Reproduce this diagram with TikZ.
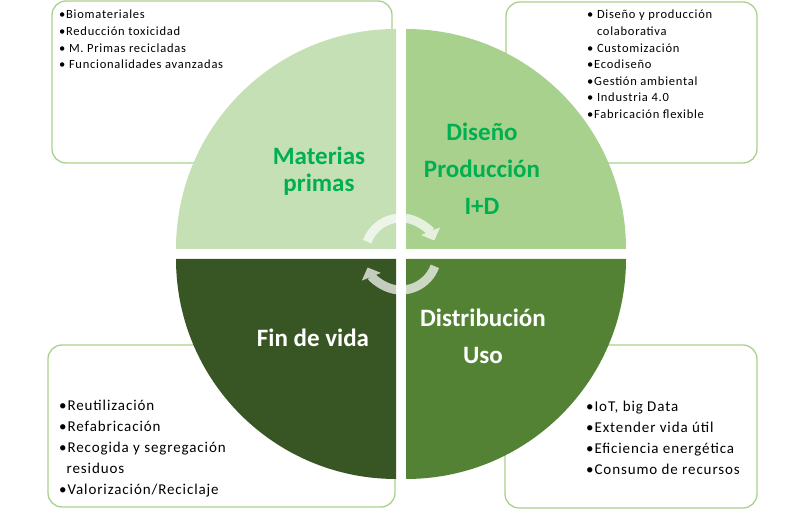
\documentclass[tikz,border=0pt]{standalone}
\usepackage{fontspec}
\setmainfont{Carlito}
\newfontfamily\listfont[LetterSpace=6]{Carlito}
\usetikzlibrary{arrows.meta,positioning}
\definecolor{mpfill}{HTML}{C5E0B4}
\definecolor{dpfill}{HTML}{A9D18E}
\definecolor{fvfill}{HTML}{375623}
\definecolor{dufill}{HTML}{548235}
\definecolor{boxline}{HTML}{A9D18E}
\definecolor{titlegreen}{HTML}{00B050}

\begin{document}
\begin{tikzpicture}[x=1pt,y=1pt,
  listbox/.style={draw=boxline,line width=1.3pt,rounded corners=14pt,fill=white,inner sep=0pt},
  smalllist/.style={align=left,anchor=north west,inner sep=0pt,font=\listfont\fontsize{12.5}{16.6}\selectfont},
  biglist/.style={align=left,anchor=north west,inner sep=0pt,font=\listfont\fontsize{15}{21}\selectfont},
  title/.style={align=center,inner sep=0pt,font=\fontsize{25}{27}\selectfont\bfseries},
  cyclearrow/.style={line width=9pt,-{Triangle[width=20pt,length=10pt]}}]
  \useasboundingbox[fill=white] (0,0) rectangle (803,510);

  % boxes behind the circle
  \node[listbox,minimum width=340,minimum height=162] (mpbox) at (222,428) {};
  \node[listbox,minimum width=251,minimum height=161] (dpbox) at (631.5,427.5) {};
  \node[listbox,minimum width=347,minimum height=162] (fvbox) at (221.5,84) {};
  \node[listbox,minimum width=252,minimum height=163] (dubox) at (631,83.5) {};

  % the four quarters
  \fill[mpfill] (396,261) -- ++(-220,0) arc[start angle=180,end angle=90,radius=220] -- cycle;
  \fill[dpfill] (406,261) -- ++(0,220) arc[start angle=90,end angle=0,radius=220] -- cycle;
  \fill[fvfill] (396,251) -- ++(0,-220) arc[start angle=270,end angle=180,radius=220] -- cycle;
  \fill[dufill] (406,251) -- ++(220,0) arc[start angle=0,end angle=-90,radius=220] -- cycle;

  % titles
  \node[title,text=titlegreen] (materias) at (319,339) {Materias\\primas};
  \node[title,text=titlegreen] (diseno) at (482,341) {Diseño\\[10pt]Producción\\[10pt]I+D};
  \node[title,text=white] (finvida) at (313,172) {Fin de vida};
  \node[title,text=white] (distrib) at (483,174) {Distribución\\[10pt]Uso};

  % lists
  \node[smalllist] (mplist) at (59,500) {•Biomateriales\\•Reducción toxicidad\\• M. Primas recicladas\\• Funcionalidades avanzadas};
  \node[smalllist] (dplist) at (587,500) {• Diseño y producción\\\phantom{• }colaborativa\\• Customización\\•Ecodiseño\\•Gestión ambiental\\• Industria 4.0\\•Fabricación flexible};
  \node[biglist] (fvlist) at (59,110) {•Reutilización\\•Refabricación\\•Recogida y segregación\\\phantom{•}residuos\\•Valorización/Reciclaje};
  \node[biglist] (dulist) at (586,109) {•IoT, big Data\\•Extender vida útil\\•Eficiencia energética\\•Consumo de recursos};

  % cycle arrows
  \coordinate (hub) at (401,256);
  \begin{scope}[transparency group,opacity=0.7]
    \draw[cyclearrow,white] (hub) ++(160:36) arc[start angle=160,end angle=22,radius=36];
    \draw[cyclearrow,white] (hub) ++(-20:36) arc[start angle=-20,end angle=-158,radius=36];
  \end{scope}
\end{tikzpicture}
\end{document}
